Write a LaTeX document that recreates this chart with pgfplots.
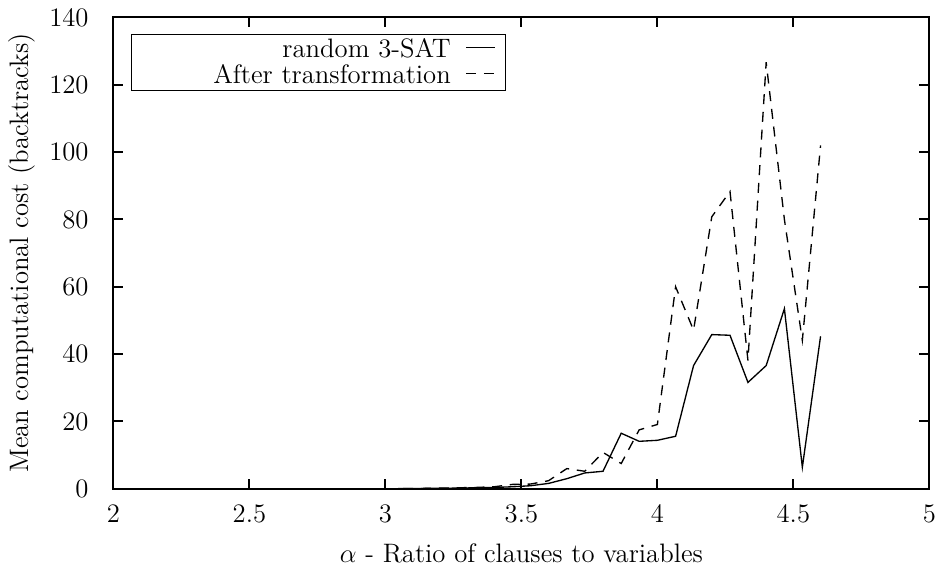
\documentclass[border=0pt,12pt]{standalone}
\usepackage{pgfplots}
\pgfplotsset{compat=1.18}
\begin{document}
\begin{tikzpicture}
\begin{axis}[
  scale only axis,
  width=367pt, height=212pt,
  xmin=2, xmax=5, ymin=0, ymax=140,
  xtick={2,2.5,3,3.5,4,4.5,5},
  xticklabels={2,2.5,3,3.5,4,4.5,5},
  ytick={0,20,40,60,80,100,120,140},
  tick align=inside,
  major tick length=4.5pt,
  minor tick num=0,
  axis line style={line width=0.9pt},
  every tick/.style={line width=0.9pt, black},
  yticklabel style={xshift=-7pt},
  xticklabel style={yshift=-3pt, inner xsep=0.5pt},
  xlabel={$\alpha$ - Ratio of clauses to variables},
  ylabel={Mean computational cost (backtracks)},
  xlabel style={yshift=-1pt},
  ylabel style={yshift=-2pt},
  legend plot pos=right,
  legend cell align=right,
  legend style={at={(0,1)}, anchor=north west, xshift=8pt, yshift=-7.5pt,
    draw=black, line width=0.5pt, inner xsep=0.5pt, inner ysep=1pt, row sep=0pt,
    nodes={inner xsep=2pt, inner ysep=0.6pt}},
  legend image code/.code={\path[draw=none,fill=none] (0cm,0.2ex) -- (0.78cm,0.2ex);\draw[#1] (0.17cm,0.2ex) -- (0.63cm,0.2ex);},
]
\addplot[black, line width=0.6pt] coordinates {
(3.0,0) (3.067,0.05) (3.133,0.1) (3.2,0.15) (3.267,0.2) (3.333,0.3) (3.4,0.4)
(3.467,0.6) (3.533,0.9) (3.6,1.6) (3.667,3.0) (3.733,4.7) (3.8,5.2) (3.867,16.5)
(3.933,14.1) (4.0,14.4) (4.067,15.6) (4.133,36.6) (4.2,45.8) (4.267,45.6)
(4.333,31.6) (4.4,36.6) (4.467,53.5) (4.533,6.4) (4.6,45.3)
};
\addlegendentry{\makebox[141pt][r]{random 3-SAT}}
\addplot[black, line width=0.6pt, dash pattern=on 4.5pt off 3.5pt] coordinates {
(3.0,0) (3.067,0.05) (3.133,0.1) (3.2,0.2) (3.267,0.3) (3.333,0.4) (3.4,0.6)
(3.467,1.3) (3.533,1.4) (3.6,2.4) (3.667,6.0) (3.733,5.2) (3.8,10.8) (3.867,7.5)
(3.933,17.5) (4.0,19.1) (4.067,60) (4.133,47.1) (4.2,80.8) (4.267,88.3)
(4.333,38.1) (4.4,126.7) (4.467,80) (4.533,44.1) (4.6,102)
};
\addlegendentry{\makebox[141pt][r]{After transformation}}
\end{axis}
\end{tikzpicture}
\end{document}
